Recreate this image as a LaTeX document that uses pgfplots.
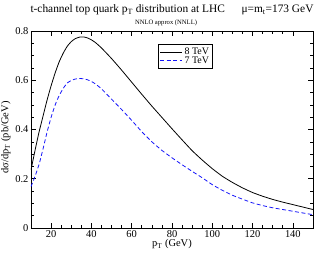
\documentclass[border=0pt]{standalone}
\usepackage{fontspec}
\setmainfont{Liberation Serif}
\usepackage{graphicx}
\usepackage{pgfplots}
\pgfplotsset{compat=1.18}
\definecolor{myblue}{RGB}{20,20,250}
\begin{document}
\begin{tikzpicture}
\begin{axis}[
  scale only axis, width=282bp, height=197bp,
  xmin=10, xmax=150, ymin=0, ymax=0.8,
  xtick={20,40,60,80,100,120,140}, ytick={0,0.2,0.4,0.6,0.8},
  minor tick num=3,
  tick align=inside, tick pos=both,
  major tick length=5bp, minor tick length=3bp,
  tick style={black, line width=0.6pt},
  axis line style={line width=0.8pt},
  /pgf/number format/assume math mode=true,
  ticklabel style={font=\fontsize{10.5}{12}\selectfont},
  yticklabel style={xshift=1bp},
  xticklabel style={yshift=1bp},
  xlabel={p\textsubscript{T} (GeV)},
  ylabel={dσ/dp\textsubscript{T} (pb/GeV)},
  label style={font=\fontsize{10.5}{12}\selectfont},
  xlabel style={yshift=5bp},
  ylabel style={at={(ticklabel cs:0.46)}, yshift=-2bp},
  legend style={at={(0.45,0.934)}, anchor=north west, draw=black, line width=0.6pt,
    font=\fontsize{10}{11}\selectfont, inner sep=1.6pt, row sep=-3.5pt, cells={anchor=west}},
  legend image code/.code={\draw[#1] (0bp,0bp) -- (22bp,0bp);},
]
\addplot[black, line width=0.8pt, smooth, tension=0.3] coordinates {
(10,0.236) (12,0.315) (14,0.39) (16,0.455) (18,0.52) (20,0.578) (22,0.63) (24,0.675)
(26,0.71) (28,0.738) (30,0.757) (32,0.769) (34,0.775) (36,0.776) (38,0.772) (40,0.764)
(42,0.753) (45,0.731) (50,0.688) (55,0.641) (60,0.592) (65,0.543) (70,0.495) (75,0.449)
(80,0.403) (85,0.358) (90,0.314) (95,0.276) (100,0.241) (105,0.210) (110,0.185)
(115,0.163) (120,0.144) (125,0.129) (130,0.116) (135,0.105) (140,0.095) (145,0.085) (150,0.075)
};
\addlegendentry{8 TeV}
\addplot[myblue, line width=0.8pt, dash pattern=on 4bp off 2.5bp, smooth, tension=0.3] coordinates {
(10,0.168) (12,0.21) (14,0.258) (16,0.322) (18,0.39) (20,0.45) (22,0.5) (24,0.538)
(26,0.567) (28,0.589) (30,0.599) (32,0.605) (34,0.607) (36,0.606) (38,0.602) (40,0.595)
(42,0.585) (45,0.565) (50,0.523) (55,0.481) (60,0.437) (65,0.391) (70,0.350) (75,0.315)
(80,0.285) (85,0.257) (90,0.230) (95,0.204) (100,0.176) (105,0.153) (110,0.133)
(115,0.117) (120,0.102) (125,0.091) (130,0.082) (135,0.075) (140,0.068) (145,0.061) (150,0.054)
};
\addlegendentry{7 TeV}
\end{axis}
\node[font=\fontsize{11}{13}\selectfont, anchor=base, inner sep=0pt] at ([xshift=141bp,yshift=18.5bp]current axis.north west)
  {\resizebox{283bp}{!}{t-channel top quark p\textsubscript{T} distribution at LHC\hspace{16bp}μ=m\textsubscript{t}=173 GeV}};
\node[font=\fontsize{7.5}{9}\selectfont, anchor=base, inner sep=0pt] at ([xshift=135bp,yshift=6.5bp]current axis.north west)
  {\resizebox{62bp}{!}{NNLO approx (NNLL)}};
\pgfresetboundingbox
\useasboundingbox ([xshift=-31bp,yshift=-26bp]current axis.south west) rectangle ([xshift=3bp,yshift=31bp]current axis.north east);
\end{tikzpicture}
\end{document}
